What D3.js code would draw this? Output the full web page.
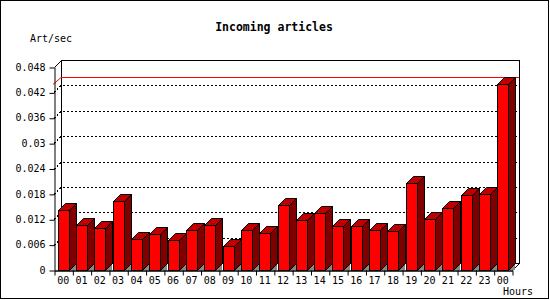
<!DOCTYPE html>
<html>
<head>
<meta charset="utf-8">
<script src="https://cdn.jsdelivr.net/npm/d3@7"></script>
<style>
  body { margin: 0; background: #fff; }
  svg text { font-family: "DejaVu Sans Mono", monospace; font-size: 10px; fill: #000; }
  .title { font-weight: bold; font-size: 11.5px; }
</style>
</head>
<body>
<svg id="chart" width="550" height="300"></svg>
<script>
const HOURS = ["00", "01", "02", "03", "04", "05", "06", "07", "08", "09", "10", "11", "12",
               "13", "14", "15", "16", "17", "18", "19", "20", "21", "22", "23", "00"];
const ARTICLES = [0.0141, 0.0106, 0.0099, 0.0162, 0.0074, 0.0085, 0.0071, 0.0095, 0.0107, 0.0057,
                  0.0095, 0.0088, 0.0154, 0.0118, 0.0135, 0.0104, 0.0104, 0.0095, 0.0092, 0.0205,
                  0.0121, 0.0147, 0.0177, 0.0180, 0.0439];
const Y_TICKS = [0, 0.006, 0.012, 0.018, 0.024, 0.03, 0.036, 0.042, 0.048];
const Y_LABELS = ["0", "0.006", "0.012", "0.018", "0.024", "0.03", "0.036", "0.042", "0.048"];

const PLOT = {left: 54, right: 512, top: 67, bottom: 270};
const DEPTH = {dx: 7, dy: 7};

const svg = d3.select("#chart");

// outer frame
svg.append("rect")
   .attr("x", 0.5).attr("y", 0.5)
   .attr("width", 548).attr("height", 298)
   .attr("fill", "#fff").attr("stroke", "#000");

let x = d3.scaleBand().domain(HOURS.map((h, i) => i)).range([PLOT.left, PLOT.right]);
let xEdge = d3.scaleLinear().domain([0, HOURS.length]).range([PLOT.left, PLOT.right]);
let y = d3.scaleLinear().domain([0, 0.048]).range([PLOT.bottom, PLOT.top]);

const back = (px, py) => [px + DEPTH.dx, py - DEPTH.dy];

// back wall
svg.append("rect")
   .attr("x", PLOT.left + DEPTH.dx + 0.5)
   .attr("y", PLOT.top - DEPTH.dy + 0.5)
   .attr("width", PLOT.right - PLOT.left)
   .attr("height", PLOT.bottom - PLOT.top)
   .attr("fill", "#fff").attr("stroke", "#000")
   .attr("shape-rendering", "crispEdges");

svg.append("path")
   .attr("d", d3.line()([[PLOT.left + 0.5, PLOT.top + 0.5], back(PLOT.left + 0.5, PLOT.top + 0.5)]))
   .attr("stroke", "#000").attr("fill", "none");

svg.append("path")
   .attr("d", d3.line()([[PLOT.right + 0.5, PLOT.bottom + 0.5], back(PLOT.right + 0.5, PLOT.bottom + 0.5),
                         back(PLOT.right + 0.5, PLOT.top + 0.5)]))
   .attr("stroke", "#000").attr("fill", "none");

// dotted grid lines on the back wall
svg.append("g").selectAll("path")
   .data(Y_TICKS.filter(d => d > 0 && d < 0.048))
   .enter().append("path")
   .attr("d", d => {
      let yy = Math.round(y(d)) + 0.5;
      return d3.line()([[PLOT.left, yy], back(PLOT.left, yy), back(PLOT.right, yy)]);
   })
   .attr("fill", "none").attr("stroke", "#000")
   .attr("stroke-dasharray", "2,2")
   .attr("shape-rendering", "crispEdges");

// max line
const maxVal = d3.max(ARTICLES);
const maxY = Math.round(y(maxVal)) + 0.5;
svg.append("path")
   .attr("d", d3.line()([[PLOT.left - 1, maxY], back(PLOT.left, maxY), back(PLOT.right, maxY)]))
   .attr("fill", "none").attr("stroke", "#f00");

// 3D bars
const barW = x.bandwidth() * 0.6;
const barX = i => Math.round(x(i) + (x.bandwidth() - barW) / 2);

let bars = svg.append("g").selectAll("g")
              .data(ARTICLES)
              .enter().append("g");

bars.append("path")
    .attr("d", (d, i) => {
       let x1 = barX(i) + barW, yb = PLOT.bottom;
       return d3.line()([[x1, yb], back(x1, yb), [x1 + DEPTH.dx, yb]]) + "Z";
    })
    .attr("fill", "#888").attr("stroke", "none");

bars.append("path")
    .attr("d", (d, i) => {
       let x0 = barX(i) + 0.5, x1 = x0 + barW, yt = Math.round(y(d)) + 0.5;
       return d3.line()([[x0, yt], back(x0, yt), back(x1, yt), [x1, yt]]) + "Z";
    })
    .attr("fill", "#c00000").attr("stroke", "#000");

bars.append("path")
    .attr("d", (d, i) => {
       let x1 = barX(i) + 0.5 + barW, yt = Math.round(y(d)) + 0.5, yb = PLOT.bottom + 0.5;
       return d3.line()([[x1, yt], back(x1, yt), back(x1, yb), [x1, yb]]) + "Z";
    })
    .attr("fill", "#800000").attr("stroke", "#000");

bars.append("rect")
    .attr("x", (d, i) => barX(i) + 0.5)
    .attr("y", d => Math.round(y(d)) + 0.5)
    .attr("width", barW)
    .attr("height", d => PLOT.bottom - Math.round(y(d)))
    .attr("fill", "#f00").attr("stroke", "#000");

// y axis
let yAxis = svg.append("g")
   .attr("transform", `translate(${PLOT.left + 0.5},0)`)
   .call(d3.axisLeft(y)
           .tickValues(Y_TICKS)
           .tickSize(5).tickSizeOuter(0).tickPadding(4)
           .tickFormat((d, i) => Y_LABELS[i]));
yAxis.attr("font-family", null).attr("font-size", null);
yAxis.selectAll(".tick line").attr("transform", "translate(0,0.5)");

// x axis: labels at band centres, ticks at band edges
let xAxis = svg.append("g")
   .attr("transform", `translate(0,${PLOT.bottom + 0.5})`)
   .call(d3.axisBottom(x).tickSize(0).tickPadding(6).tickFormat(i => HOURS[i]));
xAxis.attr("font-family", null).attr("font-size", null);

svg.append("g")
   .attr("transform", `translate(0.5,${PLOT.bottom + 0.5})`)
   .call(d3.axisBottom(xEdge).tickValues(d3.range(HOURS.length + 1)).tickSize(5).tickSizeOuter(0).tickFormat(""));

// titles
svg.append("text")
   .attr("class", "title")
   .attr("x", 274).attr("y", 31)
   .attr("text-anchor", "middle")
   .text("Incoming articles");

svg.append("text")
   .attr("x", 30).attr("y", 42)
   .text("Art/sec");

svg.append("text")
   .attr("x", 533).attr("y", 295)
   .attr("text-anchor", "end")
   .text("Hours");
</script>
</body>
</html>
